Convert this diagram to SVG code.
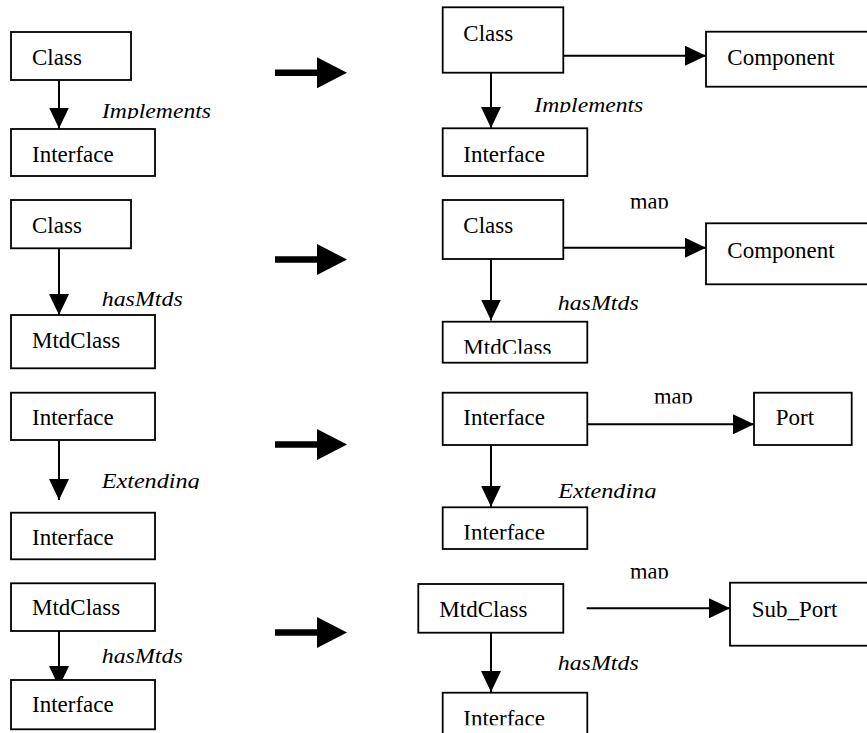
<svg xmlns="http://www.w3.org/2000/svg" xmlns:xlink="http://www.w3.org/1999/xlink" width="867" height="733" viewBox="0 0 867 733">
<style>
.box{fill:#fff;stroke:#000;stroke-width:1.8}
.t{font-family:"Liberation Serif","Times New Roman",serif;font-size:23px;fill:#000}
.lbl{font-family:"Liberation Serif","Times New Roman",serif;font-size:21.5px;font-style:italic;fill:#000}
.map{font-family:"Liberation Serif","Times New Roman",serif;font-size:22.5px;fill:#000}
.ln{stroke:#000;stroke-width:2;fill:none;marker-end:url(#ah)}
.big{fill:#000}
</style>
<defs>
<marker id="ah" markerUnits="userSpaceOnUse" markerWidth="21" markerHeight="20" refX="21" refY="10" orient="auto" viewBox="0 0 21 20">
<path d="M0,0 L21,10 L0,20 Z" fill="#000"/>
</marker>
<path id="bigArrow" d="M275,-3.3 H317 V-15.5 L347,0 L317,15.5 V3.3 H275 Z"/>
<clipPath id="c1" clipPathUnits="userSpaceOnUse"><rect x="90" y="90" width="140" height="29"/></clipPath>
<clipPath id="c2" clipPathUnits="userSpaceOnUse"><rect x="520" y="85" width="140" height="27.5"/></clipPath>
<clipPath id="c3" clipPathUnits="userSpaceOnUse"><rect x="620" y="180" width="80" height="28.5"/></clipPath>
<clipPath id="c4" clipPathUnits="userSpaceOnUse"><rect x="450" y="325" width="130" height="28.8"/></clipPath>
<clipPath id="c5" clipPathUnits="userSpaceOnUse"><rect x="640" y="375" width="80" height="28.5"/></clipPath>
<clipPath id="c6" clipPathUnits="userSpaceOnUse"><rect x="90" y="460" width="140" height="29"/></clipPath>
<clipPath id="c7" clipPathUnits="userSpaceOnUse"><rect x="545" y="470" width="140" height="28.3"/></clipPath>
<clipPath id="c8" clipPathUnits="userSpaceOnUse"><rect x="450" y="510" width="130" height="29.5"/></clipPath>
<clipPath id="c9" clipPathUnits="userSpaceOnUse"><rect x="620" y="550" width="80" height="28.5"/></clipPath>
<clipPath id="c10" clipPathUnits="userSpaceOnUse"><rect x="450" y="696" width="130" height="29.2"/></clipPath>
</defs>

<g id="transform-arrows">
<use xlink:href="#bigArrow" class="big" transform="translate(0,72.7)"/>
<use xlink:href="#bigArrow" class="big" transform="translate(0,259.5)"/>
<use xlink:href="#bigArrow" class="big" transform="translate(0,444.5)"/>
<use xlink:href="#bigArrow" class="big" transform="translate(0,632.5)"/>
</g>

<g id="connectors">
<line class="ln" x1="59" y1="80" x2="59" y2="128.5"/>
<line class="ln" x1="563.3" y1="55.7" x2="706" y2="55.7"/>
<line class="ln" x1="491" y1="72.7" x2="491" y2="128"/>
<line class="ln" x1="59" y1="248.3" x2="59" y2="315"/>
<line class="ln" x1="563.3" y1="247.7" x2="706" y2="247.7"/>
<line class="ln" x1="491" y1="259" x2="491" y2="320.5"/>
<line class="ln" x1="59" y1="440" x2="59" y2="500"/>
<line class="ln" x1="587.3" y1="424.3" x2="754" y2="424.3"/>
<line class="ln" x1="491" y1="445" x2="491" y2="506.7"/>
<line class="ln" x1="59" y1="631" x2="59" y2="687"/>
<line class="ln" x1="586.7" y1="608.3" x2="730" y2="608.3"/>
<line class="ln" x1="491" y1="632.7" x2="491" y2="692"/>
</g>

<g id="labels">
<text class="lbl" x="102" y="118" textLength="109" lengthAdjust="spacingAndGlyphs" clip-path="url(#c1)">Implements</text>
<text class="lbl" x="534.3" y="111.7" textLength="109" lengthAdjust="spacingAndGlyphs" clip-path="url(#c2)">Implements</text>
<text class="map" x="630" y="208.7" clip-path="url(#c3)">map</text>
<text class="lbl" x="101.7" y="306" textLength="81" lengthAdjust="spacingAndGlyphs">hasMtds</text>
<text class="lbl" x="557.7" y="310" textLength="81" lengthAdjust="spacingAndGlyphs">hasMtds</text>
<text class="map" x="654" y="403.7" clip-path="url(#c5)">map</text>
<text class="lbl" x="101.7" y="488.3" textLength="98" lengthAdjust="spacingAndGlyphs" clip-path="url(#c6)">Extending</text>
<text class="lbl" x="558.3" y="497.7" textLength="98" lengthAdjust="spacingAndGlyphs" clip-path="url(#c7)">Extending</text>
<text class="map" x="630" y="578.7" clip-path="url(#c9)">map</text>
<text class="lbl" x="101.7" y="663.3" textLength="81" lengthAdjust="spacingAndGlyphs">hasMtds</text>
<text class="lbl" x="557.7" y="670" textLength="81" lengthAdjust="spacingAndGlyphs">hasMtds</text>
</g>

<g id="n-r1-left-class"><rect class="box" x="11" y="32" width="120" height="48"/><text class="t" x="32" y="65">Class</text></g>
<g id="n-r1-left-interface"><rect class="box" x="11" y="129" width="144" height="47"/><text class="t" x="32" y="161.7">Interface</text></g>
<g id="n-r1-right-class"><rect class="box" x="442.7" y="7.3" width="120.6" height="65.4"/><text class="t" x="463.3" y="40.7">Class</text></g>
<g id="n-r1-right-component"><rect class="box" x="706" y="31.7" width="175" height="55"/><text class="t" x="727.3" y="65">Component</text></g>
<g id="n-r1-right-interface"><rect class="box" x="442.7" y="128.3" width="144.6" height="47.7"/><text class="t" x="463.3" y="161.7">Interface</text></g>

<g id="n-r2-left-class"><rect class="box" x="11" y="200" width="120" height="48.3"/><text class="t" x="32" y="233.3">Class</text></g>
<g id="n-r2-left-mtdclass"><rect class="box" x="11" y="315" width="144" height="53.3"/><text class="t" x="32" y="348.3">MtdClass</text></g>
<g id="n-r2-right-class"><rect class="box" x="442.7" y="200" width="120.6" height="59"/><text class="t" x="463.3" y="233.3">Class</text></g>
<g id="n-r2-right-component"><rect class="box" x="706" y="223.3" width="175" height="61"/><text class="t" x="727.3" y="257.7">Component</text></g>
<g id="n-r2-right-mtdclass"><rect class="box" x="442.7" y="321.7" width="144.6" height="41"/><text class="t" x="463.3" y="354.5" clip-path="url(#c4)">MtdClass</text></g>

<g id="n-r3-left-interface-a"><rect class="box" x="11" y="392.7" width="144" height="47.3"/><text class="t" x="32" y="425">Interface</text></g>
<g id="n-r3-left-interface-b"><rect class="box" x="11" y="512.7" width="144" height="46.6"/><text class="t" x="32" y="545">Interface</text></g>
<g id="n-r3-right-interface-a"><rect class="box" x="442.7" y="392.7" width="144.6" height="52.3"/><text class="t" x="463.3" y="425">Interface</text></g>
<g id="n-r3-right-port"><rect class="box" x="754" y="392.7" width="97.7" height="52.3"/><text class="t" x="775.7" y="425">Port</text></g>
<g id="n-r3-right-interface-b"><rect class="box" x="442.7" y="507.3" width="144.6" height="41.7"/><text class="t" x="463.3" y="539.8" clip-path="url(#c8)">Interface</text></g>

<g id="n-r4-left-mtdclass"><rect class="box" x="11" y="583.3" width="144" height="47.7"/><text class="t" x="32" y="615">MtdClass</text></g>
<g id="n-r4-left-interface"><rect class="box" x="11" y="680" width="144" height="49.3"/><text class="t" x="32" y="711.7">Interface</text></g>
<g id="n-r4-right-mtdclass"><rect class="box" x="418.3" y="584" width="145" height="48.7"/><text class="t" x="439.3" y="616.7">MtdClass</text></g>
<g id="n-r4-right-subport"><rect class="box" x="730" y="582.7" width="145" height="63"/><text class="t" x="751.7" y="616.7">Sub_Port</text></g>
<g id="n-r4-right-interface"><rect class="box" x="442.7" y="692.7" width="144.6" height="60"/><text class="t" x="463.3" y="725.5" clip-path="url(#c10)">Interface</text></g>
</svg>
